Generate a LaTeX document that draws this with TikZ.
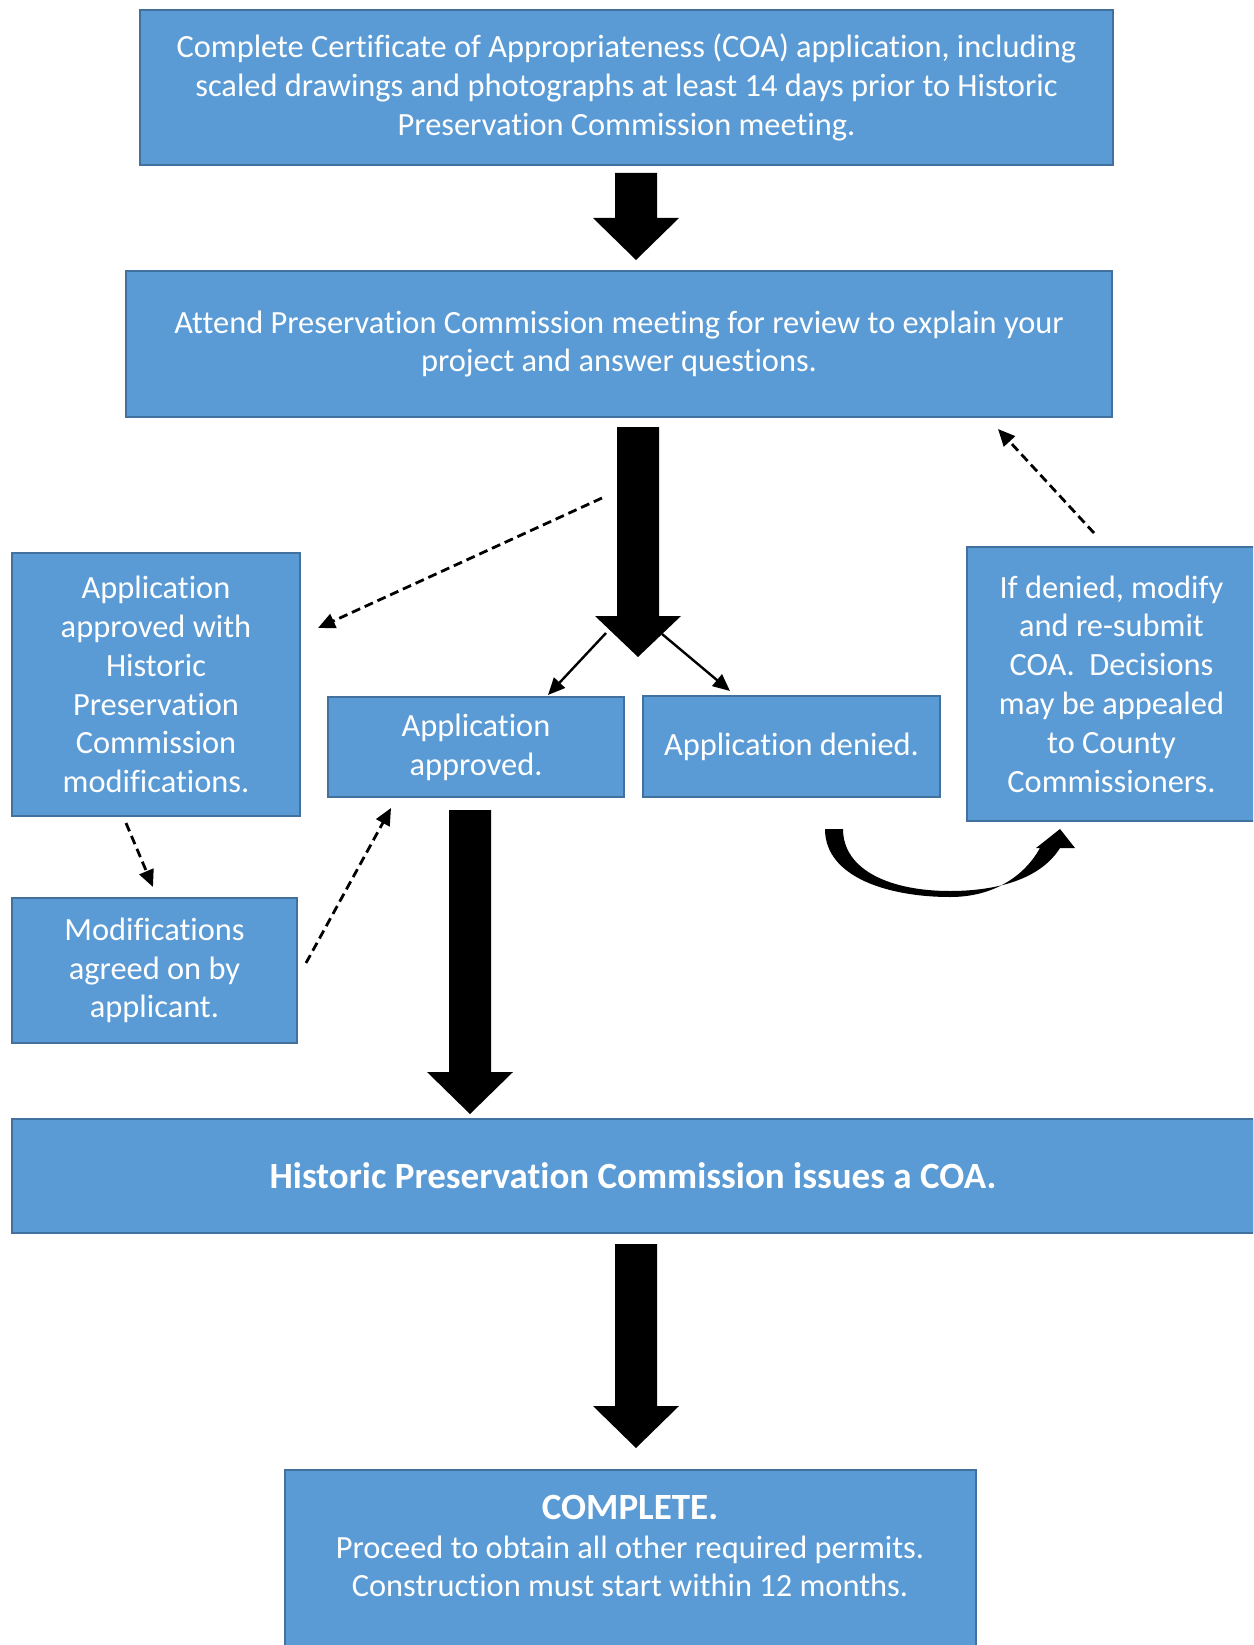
\documentclass[tikz,border=0pt]{standalone}
\usepackage{fontspec}
\setmainfont{Carlito}[Ligatures=NoCommon]
\usetikzlibrary{arrows.meta}
\definecolor{boxblue}{HTML}{5B9BD5}
\definecolor{boxedge}{HTML}{41719C}
% big black down arrow: (centre x : top y : head y : tip y)
\def\blockarrow(#1:#2:#3:#4){\fill[black] ({#1-21},#2) -- ({#1+21},#2) -- ({#1+21},#3) -- ({#1+43},#3) -- (#1,#4) -- ({#1-43},#3) -- ({#1-21},#3) -- cycle;}
\tikzset{
  stepbox/.style={draw=boxedge, line width=2pt, fill=boxblue, text=white, align=center, inner sep=0pt,
    font=\fontsize{32.4}{38.8}\selectfont},
  bigbold/.style={font=\fontsize{37}{42}\selectfont\bfseries},
  thinarrow/.style={line width=2.4pt, -{Triangle[length=17pt,width=15pt]}},
  dasharrow/.style={thinarrow, line width=2.8pt, dash pattern=on 9pt off 5pt},
}

\begin{document}
\begin{tikzpicture}[x=1pt,y=-1pt]
		%%%%% START %%%%%
		\useasboundingbox (0,0) rectangle (1253,1645);
		\fill[white] (0,0) rectangle (1253,1645);
		\clip (0,0) rectangle (1253,1645);
		
		\node[stepbox, minimum width=973pt, minimum height=155pt] (coa) at (626.5,87.5)
		  {Complete Certificate of Appropriateness (COA) application, including\\
		   scaled drawings and photographs at least 14 days prior to Historic\\
		   Preservation Commission meeting.};
		\node[stepbox, minimum width=986pt, minimum height=146pt] (meeting) at (619,344)
		  {Attend Preservation Commission meeting for review to explain your\\ project and answer questions.};
		
		\node[stepbox, minimum width=288pt, minimum height=263pt] (withmods) at (156,684.5)
		  {Application\\ approved with\\ Historic\\ Preservation\\ Commission\\ modifications.};
		\node[stepbox, minimum width=285pt, minimum height=145pt] (agreed) at (154.5,970.5)
		  {Modifications\\ agreed on by\\ applicant.};
		\node[stepbox, minimum width=296pt, minimum height=100pt] (approved) at (476,747)
		  {Application\\ approved.};
		\node[stepbox, minimum width=297pt, minimum height=101pt] (denied) at (791.5,746.5)
		  {Application denied.};
		\node[stepbox, minimum width=289pt, minimum height=274pt] (resubmit) at (1111.5,684)
		  {If denied, modify\\ and re-submit\\ COA.\ \ Decisions\\ may be appealed\\ to County\\ Commissioners.};
		
		\node[stepbox, bigbold, minimum width=1242pt, minimum height=114pt] (issues) at (633,1176)
		  {Historic Preservation Commission issues a COA.};
		\node[stepbox, anchor=north, minimum width=691pt, minimum height=230pt] (done) at (630.5,1469) {};
		\node[text=white, align=center, inner sep=0pt, font=\fontsize{32.4}{38.8}\selectfont] (donetext) at (630,1546)
		  {{\fontsize{37}{42}\selectfont\bfseries COMPLETE.}\\ Proceed to obtain all other required permits.\\ Construction must start within 12 months.};
		
		% block arrows
		\blockarrow(636:173:218:260)
		\blockarrow(638:427:616:657)
		\blockarrow(470:810:1072:1114)
		\blockarrow(636:1244:1406:1448)
		
		% split under the meeting arrow
		\coordinate (splitL) at (606,633);
		\coordinate (splitR) at (662,634);
		\draw[thinarrow] (splitL) -- (548,695);
		\draw[thinarrow] (splitR) -- (730,691);
		
		% dashed paths
		\coordinate (modsFrom) at (602,498);
		\draw[dasharrow] (modsFrom) -- (318,628);
		\draw[dasharrow] (126,823) -- (153,887);
		\draw[dasharrow] (306,963) -- (391,808);
		\draw[dasharrow] (1094,533) -- (998,429);
		
		% curved arrow from denied to re-submit
		\fill[black] (825,829) .. controls (825,878) and (890,897) .. (950,897)
		  .. controls (995,897) and (1025,875) .. (1040,848)
		  -- (1036,848) -- (1060,829) -- (1075,848) -- (1060,848)
		  .. controls (1040,880) and (995,891) .. (950,891)
		  .. controls (890,891) and (843,870) .. (843,829) -- cycle;
		%%%%% END %%%%%
	\end{tikzpicture}
\end{document}
